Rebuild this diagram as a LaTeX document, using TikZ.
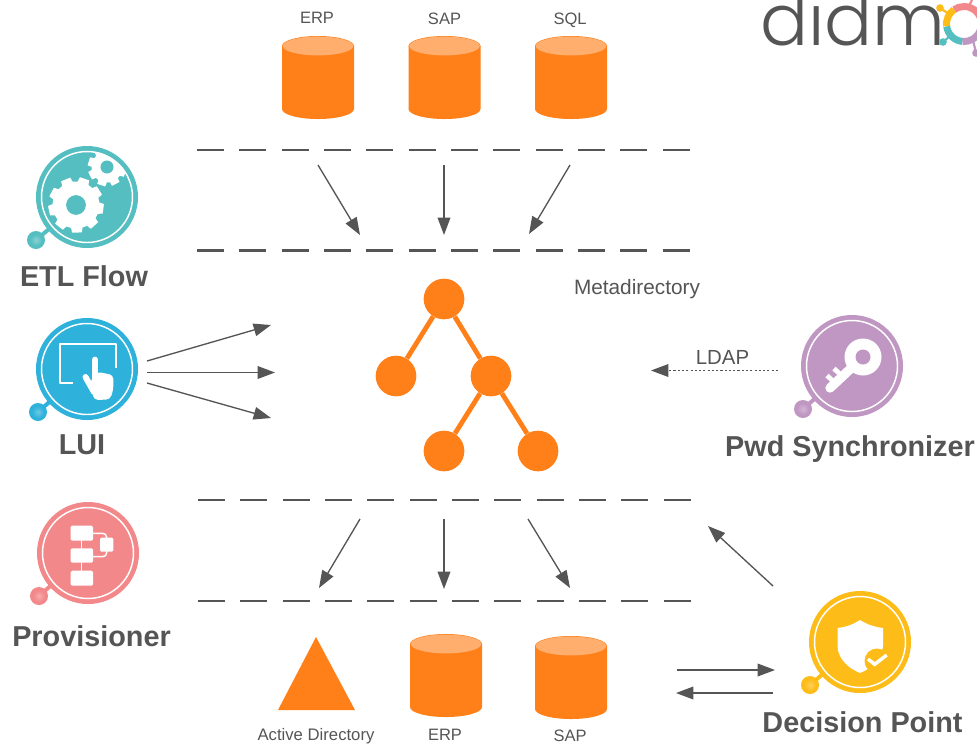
\documentclass[tikz,border=0pt]{standalone}
\usepackage{fontspec}
\setmainfont{Liberation Sans}
\newfontfamily\logofont{Poppins Light}
\usetikzlibrary{arrows.meta,calc}
\definecolor{ink}{HTML}{555555}
\definecolor{orangeA}{HTML}{FF7F18}
\definecolor{orangeB}{HTML}{FFAE6E}
\definecolor{tealA}{HTML}{55BEC0}
\definecolor{blueA}{HTML}{2EB1DA}
\definecolor{pinkA}{HTML}{F2888A}
\definecolor{purpleA}{HTML}{BF97C2}
\definecolor{yellowA}{HTML}{FDBC18}
\newcommand{\px}[1]{\fontsize{\the\dimexpr #1pt*3/4\relax}{\the\dimexpr #1pt*9/10\relax}\selectfont}
\tikzset{
  sep/.style={draw=ink,line width=1.8pt,dash pattern=on 20.2pt off 11.55pt},
  arr/.style={draw=ink,line width=1pt,-{Triangle[length=13pt,width=9.5pt]}},
  small/.style={text=ink,inner sep=0pt,anchor=center},
  big/.style={text=ink,font=\fontsize{21.6pt}{24pt}\selectfont\bfseries,inner sep=0pt,anchor=center},
  treenode/.style={circle,fill=orangeA,minimum size=30.5pt,inner sep=0pt},
  treeedge/.style={draw=orangeA,line width=3.6pt},
}
% icon base: name, cx, cy, colour, ball x, ball y
\newcommand{\iconbase}[6]{%
  \draw[#4,line width=3pt] (#5,#6) -- ($(#5,#6)!0.45!(#2,#3)$);
  \fill[#4] (#5,#6) circle (9);
  \shade[inner color=#4!70!white,outer color=#4] (#5,#6) circle (6);
  \node[circle,fill=#4,minimum size=76.5pt,inner sep=0pt] (#1) at (#2,#3) {};
  \draw[white,line width=1.1pt] (#2,#3) circle (45.5);
}
\newcommand{\cyl}[3]{% name, left x, top y
  \begin{scope}[shift={(#2,#3)}]
  \fill[orangeA] (0,10) -- (0,73) arc[start angle=180,end angle=360,x radius=36,y radius=-10] -- (72,10) -- cycle;
  \fill[orangeA] (36,10) ellipse[x radius=36,y radius=10];
  \fill[orangeB] (36,10) ellipse[x radius=35.3,y radius=9.4];
  \coordinate (#1) at (36,41);
  \end{scope}
}
\newcommand{\gear}[7]{% cx cy rOuter rInner teeth rotation colour of hole
  \begin{scope}[shift={(#1,#2)},rotate=#6]
  \fill[white] (6:#4)
   \foreach \k in {1,...,#5}{
     -- ({(\k-1)*360/#5+6}:#4) -- ({(\k-1)*360/#5+10}:#3) -- ({(\k-1)*360/#5+360/#5-10}:#3) -- ({(\k-1)*360/#5+360/#5-6}:#4)
   } -- cycle;
  \end{scope}
  \fill[#7] (#1,#2) circle ({#4*0.42});
}
\begin{document}
\begin{tikzpicture}[x=0.75pt,y=-0.75pt]
\useasboundingbox (0,0) rectangle (977,744);
\clip (0,0) rectangle (977,744);
\fill[white] (0,0) rectangle (977,744);

% logo
\node[anchor=base west,inner sep=0pt,text=ink,font=\logofont\fontsize{53.4pt}{56pt}\selectfont] (logo) at (760,45) {didm};
\begin{scope}[line width=5.2pt]
\draw[pinkA] (964,24) ++(0:17.5) arc[start angle=0,end angle=-125,radius=17.5];
\draw[yellowA] (964,24) ++(-125:17.5) arc[start angle=-125,end angle=-188,radius=17.5];
\draw[tealA] (964,24) ++(-188:17.5) arc[start angle=-188,end angle=-265,radius=17.5];
\draw[purpleA] (964,24) ++(-265:17.5) arc[start angle=-265,end angle=-360,radius=17.5];
\end{scope}
\draw[yellowA,line width=1.6pt] (940,8) -- (949,14);
\fill[yellowA] (940,8) circle (3.8);
\draw[tealA,line width=1.6pt] (943,42) -- (950,36);
\fill[tealA] (943,42) circle (3.8);
\draw[purpleA,line width=1.6pt] (976,53) -- (973,40);
\fill[purpleA] (976,53) circle (3.8);
\draw[pinkA,line width=1.6pt] (972,0) -- (968,8);

% separators
\coordinate (s1a) at (197,150); \coordinate (s1b) at (692,150);
\coordinate (s2a) at (197,250.5); \coordinate (s2b) at (692,250.5);
\coordinate (s3a) at (198,500); \coordinate (s3b) at (693,500);
\coordinate (s4a) at (198,601); \coordinate (s4b) at (693,601);
\draw[sep] (s1a) -- (s1b);
\draw[sep] (s2a) -- (s2b);
\draw[sep] (s3a) -- (s3b);
\draw[sep] (s4a) -- (s4b);

% top stores
\cyl{erpT}{282}{36}
\cyl{sapT}{408.5}{36}
\cyl{sqlT}{535}{36}
\node[small,font=\px{16.5}] (lerpT) at (317,18) {ERP};
\node[small,font=\px{16.5}] (lsapT) at (444.5,19) {SAP};
\node[small,font=\px{16.5}] (lsqlT) at (570,20) {SQL};

% bottom stores
\fill[orangeA] (316,637) -- (355,710) -- (278,710) -- cycle;
\cyl{erpB}{410}{634}
\cyl{sapB}{535}{636}
\node[small,font=\px{16.7}] (lad) at (316,736.5) {Active Directory};
\node[small,font=\px{16.5}] (lerpB) at (445,735) {ERP};
\node[small,font=\px{16.5}] (lsapB) at (570,736) {SAP};

% tree
\node[treenode] (t0) at (444,299) {};
\node[treenode] (t1) at (396,376) {};
\node[treenode] (t2) at (491,376) {};
\node[treenode] (t3) at (444,451) {};
\node[treenode] (t4) at (538,451) {};
\draw[treeedge] (t0) -- (t1);
\draw[treeedge] (t0) -- (t2);
\draw[treeedge] (t2) -- (t3);
\draw[treeedge] (t2) -- (t4);
\node[small,font=\px{20.8}] (meta) at (637,289.5) {Metadirectory};

% arrows: top
\coordinate (a1) at (318,165); \coordinate (a1e) at (360,235);
\coordinate (a2) at (444,165); \coordinate (a2e) at (444,235);
\coordinate (a3) at (570,165); \coordinate (a3e) at (529,234);
\draw[arr] (a1) -- (a1e);
\draw[arr] (a2) -- (a2e);
\draw[arr] (a3) -- (a3e);
% arrows: lower
\coordinate (b1) at (360,519); \coordinate (b1e) at (319,588);
\coordinate (b2) at (444,519); \coordinate (b2e) at (444,589);
\coordinate (b3) at (528,519); \coordinate (b3e) at (570,588);
\draw[arr] (b1) -- (b1e);
\draw[arr] (b2) -- (b2e);
\draw[arr] (b3) -- (b3e);
% arrows: LUI
\coordinate (c1) at (147,361); \coordinate (c1e) at (271,325);
\coordinate (c2) at (147,372.5); \coordinate (c2e) at (275,372.5);
\coordinate (c3) at (147,383); \coordinate (c3e) at (271,418);
\draw[arr] (c1) -- (c1e);
\draw[arr] (c2) -- (c2e);
\draw[arr] (c3) -- (c3e);
% LDAP
\coordinate (d1) at (778,370.5); \coordinate (d1e) at (651,370.5);
\draw[arr,dash pattern=on 1.6pt off 1.6pt] (d1) -- (d1e);
\node[small,font=\px{20.4}] (ldap) at (722.5,357) {LDAP};
% decision arrows
\coordinate (e1) at (773,586); \coordinate (e1e) at (708,526);
\coordinate (e2) at (677,670); \coordinate (e2e) at (775,670);
\coordinate (e3) at (773,693); \coordinate (e3e) at (676,693);
\draw[arr] (e1) -- (e1e);
\draw[arr] (e2) -- (e2e);
\draw[arr] (e3) -- (e3e);

% ETL icon
\iconbase{etl}{87}{197}{tealA}{36}{240}
\begin{scope}
\clip (87,197) circle (46);
\gear{76}{205}{28}{23.5}{9}{12}{tealA}
\gear{107}{167}{19.5}{15.5}{8}{5}{tealA}
\end{scope}
\node[big] (letl) at (84,276) {ETL Flow};

% LUI icon
\iconbase{lui}{87}{369}{blueA}{38}{412}
\draw[white,line width=1.6pt,line join=round] (115.7,368.3) -- (115.7,344.3) -- (60,344.3) -- (60,383.3) -- (73.3,383.3);
\fill[white,rounded corners=3] (90,381.7) -- (96.7,371.7) -- (113.3,375) -- (113.3,390) -- (110,399.5) -- (94,400) -- cycle;
\draw[white,line width=4.5pt,line cap=round] (85.5,377) -- (94,392);
\draw[white,line width=5.2pt,line cap=round] (95,360) -- (95,385);
\node[big] (llui) at (82,445) {LUI};

% Provisioner icon
\iconbase{prov}{88}{553}{pinkA}{39}{596}
\fill[white,rounded corners=1] (70.7,525.7) rectangle (93,540.7);
\fill[white,rounded corners=1] (70.7,548.3) rectangle (93,562.7);
\fill[white,rounded corners=1] (70.7,570.7) rectangle (93,585.7);
\fill[white,rounded corners=1] (100,537.7) rectangle (113.3,551.7);
\draw[white,line width=1.1pt] (81.7,540) -- (81.7,571);
\draw[white,line width=1.1pt,rounded corners=3] (93,533.3) -- (106.7,533.3) -- (106.7,538);
\draw[white,line width=1.1pt,rounded corners=3] (93,556.7) -- (106.7,556.7) -- (106.7,551);
\node[big] (lprov) at (91.5,636) {Provisioner};

% Pwd icon
\iconbase{pwd}{852}{366}{purpleA}{803}{409}
\draw[white,line width=7pt,line cap=round] (863,357) -- (830,388);
\draw[white,line width=3.6pt] (843,377) -- (834,368.5);
\draw[white,line width=3.6pt] (836,384) -- (827,375.5);
\fill[white] (863,357) circle (18.5);
\fill[purpleA] (863,357) circle (7.5);
\node[big] (lpwd) at (850,449) {Pwd Synchronizer};

% Decision icon
\iconbase{dec}{860}{642}{yellowA}{810}{685}
\fill[white] (860,620) .. controls (852,625) and (846,627) .. (837.5,628) -- (837.5,646) .. controls (838,660) and (850,669) .. (860,673) .. controls (870,669) and (882,660) .. (883,646) -- (883,628) .. controls (875,627) and (868,625) .. (860,620) -- cycle;
\fill[yellowA] (877,661) circle (12.5);
\draw[white,line width=2.6pt] (868,659) -- (874.7,664.3) -- (886.7,655);
\node[big] (ldec) at (862.5,722) {Decision Point};
\end{tikzpicture}
\end{document}
